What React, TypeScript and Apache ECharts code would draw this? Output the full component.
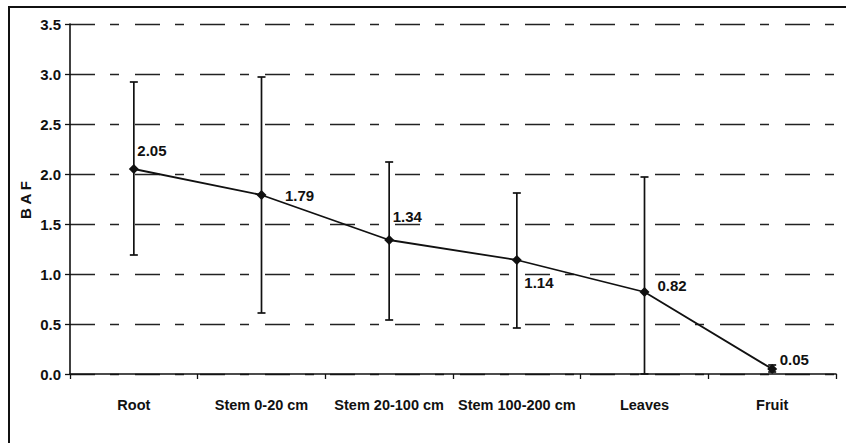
import React, { useEffect, useRef } from "react";
import * as echarts from "echarts";

const categories = ["Root", "Stem 0-20 cm", "Stem 20-100 cm", "Stem 100-200 cm", "Leaves", "Fruit"];
const bafValues = [2.05, 1.79, 1.34, 1.14, 0.82, 0.05];
const errLow = [1.19, 0.61, 0.54, 0.46, 0.0, 0.02];
const errHigh = [2.92, 2.97, 2.12, 1.81, 1.97, 0.09];
const labelOffsets: [number, number][] = [
  [-1.5, -18.5],
  [18.5, 0],
  [-1.5, -23.5],
  [2.5, 22.5],
  [8, -7],
  [2.5, -9.5],
];

const FONT = "'Liberation Sans', Arial, sans-serif";

export default function App() {
  const ref = useRef<HTMLDivElement>(null);
  useEffect(() => {
    if (!ref.current) return;
    const chart = echarts.init(ref.current, undefined, { renderer: "svg" });
    const option: any = {
      animation: false,
      backgroundColor: "#ffffff",
      grid: { left: 70, right: 10, top: 24, bottom: 69, containLabel: false },
      xAxis: {
        type: "category",
        data: categories,
        boundaryGap: true,
        axisLine: { lineStyle: { color: "#111", width: 1.6 } },
        axisTick: { show: true, length: 5, lineStyle: { color: "#111", width: 1.3 } },
        axisLabel: {
          color: "#111",
          fontFamily: FONT,
          fontWeight: "bold",
          fontSize: 14.5,
          margin: 23,
          interval: 0,
        },
        splitLine: { show: false },
      },
      yAxis: {
        type: "value",
        min: 0,
        max: 3.5,
        interval: 0.5,
        axisLine: { show: true, lineStyle: { color: "#111", width: 1.6 } },
        axisTick: { show: true, length: 5, lineStyle: { color: "#111", width: 1.3 } },
        axisLabel: {
          color: "#111",
          fontFamily: FONT,
          fontWeight: "bold",
          fontSize: 15,
          margin: 9,
          formatter: (v: number) => v.toFixed(1),
        },
        splitLine: {
          show: true,
          lineStyle: { color: "#222", width: 1.3, type: [25, 15, 9, 16] },
        },
      },
      graphic: [
        {
          type: "rect",
          shape: { x: 9, y: 7, width: 900, height: 500 },
          style: { fill: "none", stroke: "#111", lineWidth: 2 },
          silent: true,
        },
        {
          type: "text",
          x: 25,
          y: 200,
          rotation: Math.PI / 2,
          style: {
            text: "B A F",
            fill: "#111",
            font: "bold 15px " + FONT,
            align: "center",
            verticalAlign: "middle",
          },
        },
      ],
      series: [
        {
          type: "custom",
          z: 3,
          data: categories.map((_, i) => [i, errLow[i], errHigh[i]]),
          renderItem: (params: any, api: any) => {
            const x = api.value(0);
            const lo = api.coord([x, api.value(1)]);
            const hi = api.coord([x, api.value(2)]);
            const cap = 4;
            const style = { stroke: "#111", lineWidth: 1.7 };
            return {
              type: "group",
              children: [
                { type: "line", shape: { x1: lo[0], y1: lo[1], x2: hi[0], y2: hi[1] }, style },
                { type: "line", shape: { x1: hi[0] - cap, y1: hi[1], x2: hi[0] + cap, y2: hi[1] }, style },
                { type: "line", shape: { x1: lo[0] - cap, y1: lo[1], x2: lo[0] + cap, y2: lo[1] }, style },
              ],
            };
          },
        },
        {
          type: "line",
          z: 4,
          data: bafValues.map((v, i) => ({
            value: v,
            label: {
              show: true,
              position: "right",
              distance: 0,
              offset: labelOffsets[i],
              formatter: v.toFixed(2),
              color: "#111",
              fontFamily: FONT,
              fontWeight: "bold",
              fontSize: 15,
            },
          })),
          symbol: "diamond",
          symbolSize: 10,
          itemStyle: { color: "#111" },
          lineStyle: { color: "#111", width: 1.8 },
        },
      ],
    };
    chart.setOption(option);
    return () => chart.dispose();
  }, []);
  return (
    <div
      ref={ref}
      style={{ position: "fixed", left: 0, top: 0, width: 846, height: 443 }}
    />
  );
}
